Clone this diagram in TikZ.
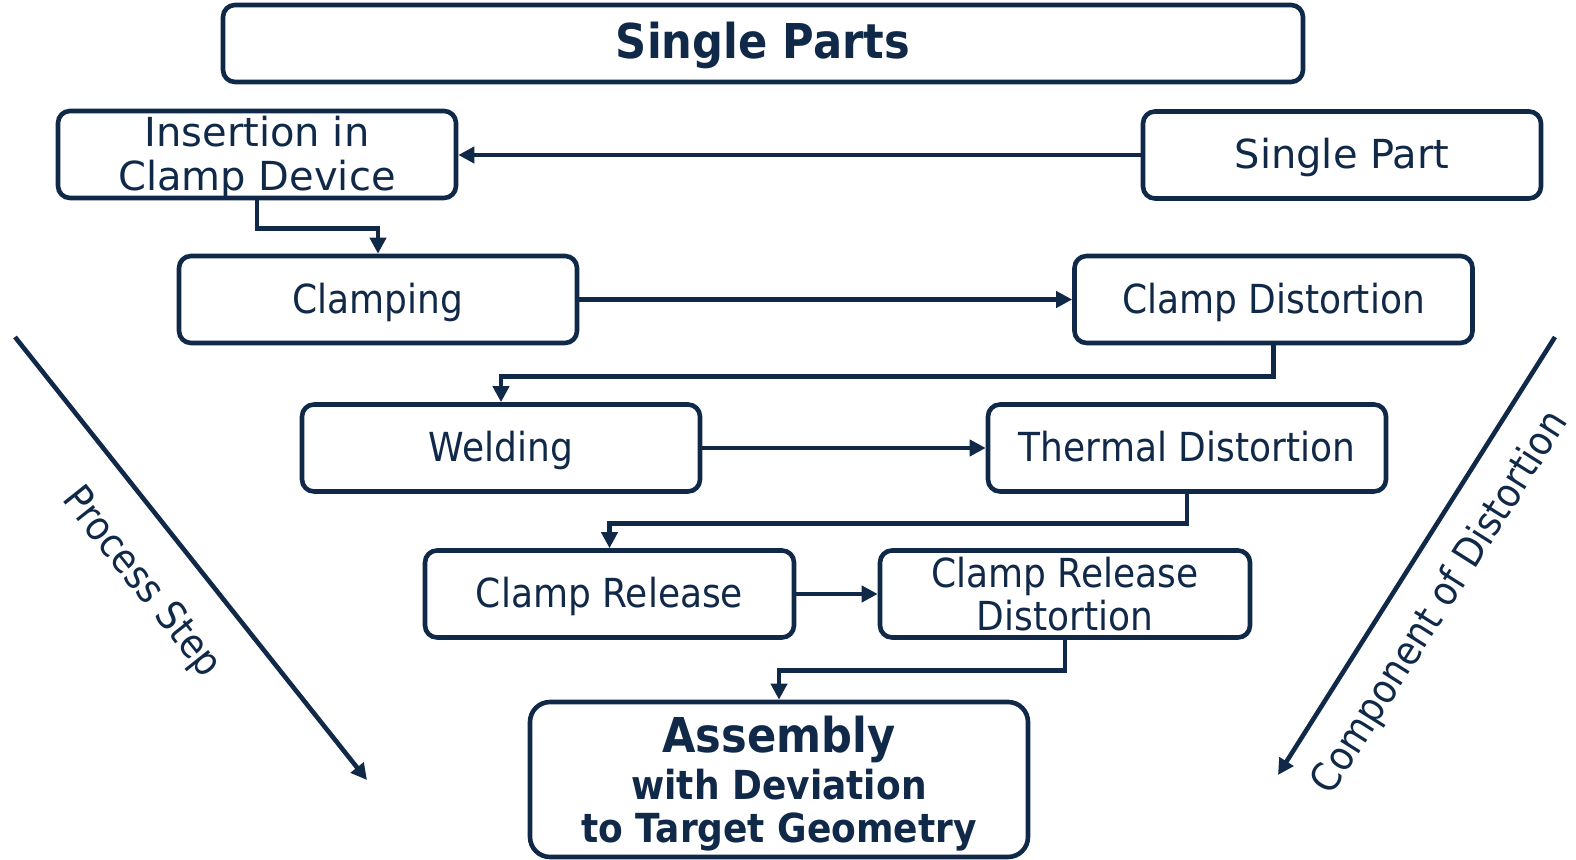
\documentclass[tikz,border=0pt]{standalone}
\usepackage{fontspec}
\setmainfont{DejaVu Sans}[FakeStretch=0.9]
\newfontfamily\widefont{DejaVu Sans}
\usetikzlibrary{arrows.meta}
\definecolor{navy}{RGB}{17,41,72}
\begin{document}
\begin{tikzpicture}[x=0.5pt,y=-0.5pt,
  box/.style={draw=navy, line width=2.3pt, rounded corners=6pt, text=navy,
    minimum width=199pt, minimum height=43.5pt, inner sep=0pt,
    font=\fontsize{20pt}{21.5pt}\selectfont, align=center},
  one/.style={text height=14.5pt, text depth=0.5pt},
  widetext/.style={font=\widefont\fontsize{20pt}{22pt}\selectfont},
  conn/.style={draw=navy, line width=2.3pt, -{Triangle[length=8pt,width=8pt]}},
  diaglabel/.style={text=navy, font=\fontsize{20pt}{22pt}\selectfont, inner sep=0pt}
  ]
\useasboundingbox (0,0) rectangle (1576,860);

\node[box, minimum width=540pt, minimum height=38.5pt, text height=17.5pt, text depth=2.5pt,
      font=\fontsize{24pt}{25pt}\selectfont\bfseries] (title) at (763,43.5) {Single Parts};

\node[box, widetext, text depth=1.5pt] (ins) at (257,154.5) {Insertion in\\Clamp Device};
\node[box, one, widetext] (sp) at (1342,155) {Single Part};
\node[box, one] (cl) at (378,299.5) {Clamping};
\node[box, one] (cd) at (1273.5,299.5) {Clamp Distortion};
\node[box, one] (we) at (501,448) {Welding};
\node[box, one] (th) at (1187,448) {Thermal Distortion};
\node[box, one, minimum width=184.5pt] (cr) at (609.5,594) {Clamp Release};
\node[box, minimum width=185pt] (crd) at (1065,594) {Clamp Release\\Distortion};
\node[box, minimum width=249pt, minimum height=77.5pt, rounded corners=10pt,
      font=\fontsize{20pt}{21.5pt}\selectfont\bfseries] (asm) at (779,779.5)
      {{\fontsize{24pt}{21.5pt}\selectfont\rule{0pt}{22.75pt}Assembly}\\[2pt]with Deviation\\to Target Geometry};

\draw[conn] (sp.west) -- (sp.west -| ins.east);
\draw[conn] (ins.south) -- ++(0,28.5) -| (cl.north);
\draw[conn] (cl.east) -- (cd.west);
\draw[conn] (cd.south) -- ++(0,31) -| (we.north);
\draw[conn] (we.east) -- (th.west);
\draw[conn] (th.south) -- ++(0,29.5) -| (cr.north);
\draw[conn] (cr.east) -- (crd.west);
\draw[conn] (crd.south) -- ++(0,31) -| (asm.north);

\coordinate (ps1) at (15,337);
\coordinate (ps2) at (367,780);
\draw[conn] (ps1) -- (ps2);
\node[diaglabel, rotate=-51.5] (pslabel) at (141,583) {Process Step};

\coordinate (cd1) at (1555,337);
\coordinate (cd2) at (1278,775);
\draw[conn] (cd1) -- (cd2);
\node[diaglabel, rotate=57.7] (cdlabel) at (1441,603) {Component of Distortion};
\end{tikzpicture}
\end{document}
